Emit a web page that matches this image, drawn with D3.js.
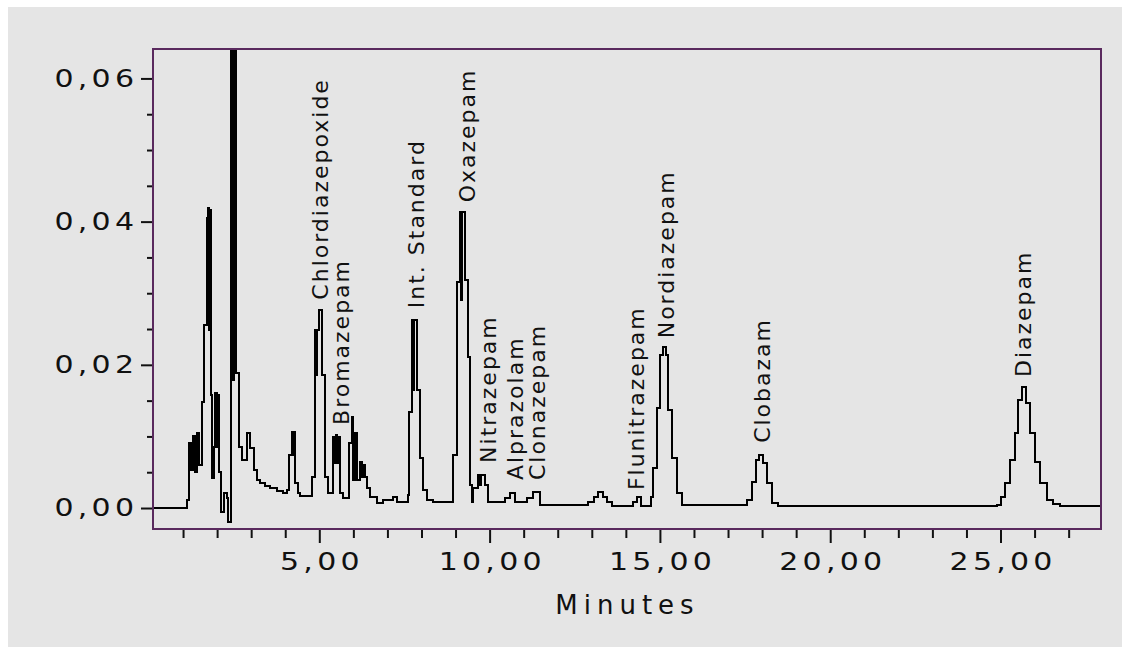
<!DOCTYPE html>
<html>
<head>
<meta charset="utf-8">
<script src="https://cdn.jsdelivr.net/npm/d3@7"></script>
<style>
  html, body { margin: 0; padding: 0; background: #ffffff; }
  svg { display: block; }
  text { font-family: "DejaVu Sans", sans-serif; fill: #111111; }
</style>
</head>
<body>
<svg id="chart" width="1131" height="655"></svg>
<script>
// Detector trace: retention time (min) and absorbance, each entry holds its level until the next one
const traceTimes = [
  0.15, 1.116, 1.174, 1.233, 1.292, 1.351, 1.409, 1.468, 1.547, 1.615,
  1.703, 1.732, 1.762, 1.791, 1.820, 1.864, 1.908, 1.952, 1.996, 2.026,
  2.055, 2.105, 2.202, 2.281, 2.328, 2.408, 2.466, 2.496, 2.569, 2.642,
  2.730, 2.877, 2.965, 3.083, 3.171, 3.259, 3.406, 3.553, 3.758, 3.934,
  4.052, 4.119, 4.184, 4.228, 4.257, 4.287, 4.366, 4.433, 4.777, 4.874,
  4.918, 4.947, 4.991, 5.070, 5.167, 5.255, 5.393, 5.446, 5.490, 5.534,
  5.578, 5.608, 5.687, 5.881, 5.951, 6.004, 6.048, 6.098, 6.195, 6.253,
  6.298, 6.342, 6.392, 6.489, 6.685, 6.870, 7.164, 7.273, 7.596, 7.642,
  7.713, 7.766, 7.795, 7.860, 7.956, 8.045, 8.153, 8.338, 8.934, 9.034,
  9.131, 9.163, 9.190, 9.278, 9.375, 9.424, 9.492, 9.521, 9.668, 9.703,
  9.733, 9.865, 9.962, 10.452, 10.599, 10.746, 11.089, 11.283, 11.480, 12.889,
  13.065, 13.183, 13.329, 13.447, 13.585, 14.210, 14.319, 14.445, 14.739, 14.806,
  14.915, 15.003, 15.082, 15.179, 15.247, 15.347, 15.494, 15.640, 17.549, 17.696,
  17.822, 17.919, 18.037, 18.145, 18.292, 18.468, 24.888, 25.015, 25.132, 25.279,
  25.426, 25.523, 25.623, 25.749, 25.867, 26.013, 26.160, 26.357, 26.551, 26.748,
  27.95
];
const traceValues = [
  0.0000, 0.0011, 0.0091, 0.0053, 0.0101, 0.0050, 0.0105, 0.0060, 0.0148, 0.0256,
  0.0405, 0.0419, 0.0249, 0.0416, 0.0158, 0.0042, 0.0085, 0.0161, 0.0085, 0.0158,
  0.0050, -0.0006, 0.0021, 0.0014, -0.0020, 0.0800, 0.0179, 0.0800, 0.0189, 0.0085,
  0.0067, 0.0105, 0.0084, 0.0053, 0.0039, 0.0035, 0.0031, 0.0028, 0.0024, 0.0021,
  0.0025, 0.0074, 0.0106, 0.0074, 0.0106, 0.0035, 0.0021, 0.0017, 0.0043, 0.0249,
  0.0186, 0.0249, 0.0277, 0.0186, 0.0043, 0.0021, 0.0099, 0.0063, 0.0102, 0.0063,
  0.0099, 0.0021, 0.0014, 0.0091, 0.0127, 0.0039, 0.0105, 0.0039, 0.0064, 0.0043,
  0.0060, 0.0043, 0.0028, 0.0015, 0.0007, 0.0011, 0.0015, 0.0008, 0.0018, 0.0134,
  0.0263, 0.0165, 0.0263, 0.0165, 0.0070, 0.0025, 0.0011, 0.0008, 0.0074, 0.0316,
  0.0413, 0.0291, 0.0413, 0.0319, 0.0211, 0.0032, 0.0008, 0.0028, 0.0046, 0.0032,
  0.0046, 0.0032, 0.0008, 0.0014, 0.0021, 0.0008, 0.0014, 0.0022, 0.0004, 0.0008,
  0.0015, 0.0022, 0.0015, 0.0008, 0.0003, 0.0008, 0.0015, 0.0003, 0.0015, 0.0056,
  0.0140, 0.0214, 0.0225, 0.0214, 0.0137, 0.0070, 0.0021, 0.0004, 0.0011, 0.0036,
  0.0067, 0.0074, 0.0063, 0.0035, 0.0007, 0.0003, 0.0004, 0.0015, 0.0035, 0.0067,
  0.0105, 0.0151, 0.0169, 0.0147, 0.0105, 0.0064, 0.0035, 0.0011, 0.0006, 0.0003,
  0.0003
];

// Peak annotations: compound name, time (min) and absorbance where the label begins
const peakNames = [
  "Chlordiazepoxide", "Bromazepam", "Int. Standard", "Oxazepam", "Nitrazepam",
  "Alprazolam", "Clonazepam", "Flunitrazepam", "Nordiazepam", "Clobazam", "Diazepam"
];
const peakLabelTimes = [5.02, 5.64, 7.84, 9.34, 9.95, 10.75, 11.39, 14.30, 15.18, 18.00, 25.66];
const peakLabelValues = [0.0291, 0.0116, 0.0279, 0.0427, 0.0063, 0.0039, 0.0039, 0.0025, 0.0237, 0.0091, 0.0183];

// Axis ticks
const xTickValues = [5, 10, 15, 20, 25];
const xTickLabels = ["5,00", "10,00", "15,00", "20,00", "25,00"];
const xMinorTicks = [1, 2, 3, 4, 6, 7, 8, 9, 11, 12, 13, 14, 16, 17, 18, 19, 21, 22, 23, 24, 26, 27];
const yTickValues = [0, 0.02, 0.04, 0.06];
const yTickLabels = ["0,00", "0,02", "0,04", "0,06"];
const yMinorTicks = [0.005, 0.01, 0.015, 0.025, 0.03, 0.035, 0.045, 0.05, 0.055];
const xTitle = "Minutes";

const frame = { left: 154, right: 1101, top: 50, bottom: 529 };
const svg = d3.select("#chart");

// panel background
svg.append("rect")
  .attr("x", 8).attr("y", 7)
  .attr("width", 1114).attr("height", 640)
  .attr("fill", "#e5e5e5");

const x = d3.scaleLinear().domain([0.147, 27.95]).range([frame.left, frame.right]);
const y = d3.scaleLinear().domain([-0.00293, 0.06397]).range([frame.bottom, frame.top]);

svg.append("clipPath").attr("id", "plot-clip")
  .append("rect")
  .attr("x", frame.left).attr("y", frame.top)
  .attr("width", frame.right - frame.left)
  .attr("height", frame.bottom - frame.top);

// trace
const trace = traceTimes.map((t, i) => [t, traceValues[i]]);
const line = d3.line()
  .x(d => x(d[0]))
  .y(d => y(d[1]))
  .curve(d3.curveStepAfter);

svg.append("path")
  .datum(trace)
  .attr("clip-path", "url(#plot-clip)")
  .attr("d", line)
  .attr("fill", "none")
  .attr("stroke", "#000000")
  .attr("stroke-width", 2)
  .attr("stroke-linejoin", "miter")
  .attr("shape-rendering", "crispEdges");

// peak labels, reading upwards
const labels = svg.append("g").attr("class", "peak-labels");
peakNames.forEach((name, i) => {
  labels.append("text")
    .attr("transform", `translate(${x(peakLabelTimes[i])},${y(peakLabelValues[i])}) rotate(-90)`)
    .attr("dy", "0.35em")
    .attr("font-size", 22)
    .attr("letter-spacing", 2)
    .attr("text-anchor", "start")
    .text(name);
});

// axes: tick labels use a slightly widened face
const tickFontSize = 24;
const tickSpacing = 3.4;
const stretch = 1.25;

function styleAxis(g) {
  g.select(".domain").remove();
  g.selectAll(".tick line").attr("stroke", "#111111").attr("stroke-width", 2);
  g.selectAll(".tick text")
    .attr("font-size", tickFontSize)
    .attr("letter-spacing", tickSpacing)
    .attr("font-family", "DejaVu Sans, sans-serif")
    .attr("fill", "#111111");
}

function widen(g, shiftX) {
  g.selectAll(".tick text").each(function () {
    const t = d3.select(this);
    const x0 = +t.attr("x") || 0;
    t.attr("x", (x0 + shiftX) / stretch)
     .attr("transform", `scale(${stretch},1)`);
  });
}

svg.append("g")
  .attr("transform", `translate(${frame.left - 1},0)`)
  .call(d3.axisLeft(y).tickValues(yMinorTicks).tickSize(6).tickFormat(""))
  .call(styleAxis);

svg.append("g")
  .attr("transform", `translate(${frame.left - 1},0)`)
  .call(d3.axisLeft(y).tickValues(yTickValues).tickSize(12).tickPadding(0)
    .tickFormat((d, i) => yTickLabels[i]))
  .call(styleAxis)
  .call(g => widen(g, -7 + tickSpacing * stretch));

svg.append("g")
  .attr("transform", `translate(0,${frame.bottom})`)
  .call(d3.axisBottom(x).tickValues(xMinorTicks).tickSize(9).tickFormat(""))
  .call(styleAxis);

svg.append("g")
  .attr("transform", `translate(0,${frame.bottom})`)
  .call(d3.axisBottom(x).tickValues(xTickValues).tickSize(14).tickPadding(10)
    .tickFormat((d, i) => xTickLabels[i]))
  .call(styleAxis)
  .call(g => widen(g, tickSpacing * stretch / 2));

svg.append("text")
  .attr("x", (frame.left + frame.right) / 2 - 3)
  .attr("y", 614)
  .attr("text-anchor", "middle")
  .attr("font-size", 26)
  .attr("letter-spacing", 6)
  .attr("dx", 3)
  .text(xTitle);

// plot frame
svg.append("rect")
  .attr("x", frame.left - 1).attr("y", frame.top - 1)
  .attr("width", frame.right - frame.left + 1)
  .attr("height", frame.bottom - frame.top + 1)
  .attr("fill", "none")
  .attr("stroke", "#5a2a5e")
  .attr("stroke-width", 2);
</script>
</body>
</html>
